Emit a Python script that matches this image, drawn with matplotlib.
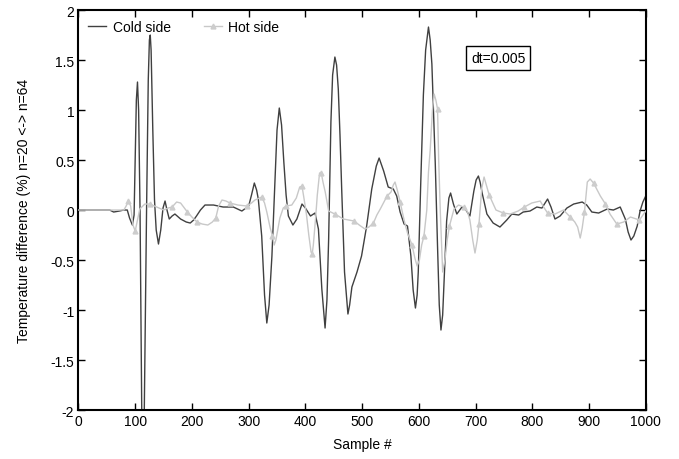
import matplotlib
matplotlib.use("Agg")
import matplotlib.pyplot as plt
import numpy as np

plt.rcParams['font.family'] = ['Liberation Sans', 'DejaVu Sans']

# Cold side curve (sample #, % difference)
cold_x = [0, 55, 62, 72, 80, 86, 90, 95, 98, 100, 102, 104, 106, 108.5, 111.5,
          113.5, 116, 120, 123, 125, 126.5, 128, 131, 134, 137, 141, 145, 149,
          152.6, 156, 160, 165, 170, 180, 190, 197, 203, 208, 215, 223, 238,
          255, 273, 288, 300, 305, 310, 314, 317, 323, 328, 332, 336, 341,
          346.6, 350, 354, 358, 362, 366, 370, 378, 385, 394, 400, 409, 417,
          423, 429, 434.7, 438, 441, 445, 448, 452, 455, 458, 461, 464, 469,
          475, 478, 482, 491, 499, 508, 517, 525, 530, 538, 546, 555, 561,
          567, 574, 580, 586, 590, 594, 597, 599, 603, 608, 612, 617, 620,
          623, 626, 629, 633, 636, 639, 642, 644.6, 649, 653, 656, 661, 667,
          676, 683, 690, 697, 701, 705, 708, 712, 720, 731, 743, 755, 764,
          776, 784, 796, 808, 817, 827, 833, 840, 849, 861, 873, 888, 896,
          905, 917, 932, 943, 955, 964, 969, 974, 979, 985, 990, 995, 1000]
cold_y = [0, 0, -0.02, -0.01, 0.0, 0.0, -0.08, -0.15, -0.05, 0.5, 1.1, 1.28,
          1.0, 0.0, -2.0, -2.45, -2.0, 0.0, 1.3, 1.7, 1.75, 1.6, 0.8, 0.1,
          -0.2, -0.34, -0.2, 0.02, 0.09, 0.0, -0.09, -0.06, -0.04, -0.09,
          -0.12, -0.13, -0.1, -0.06, 0.0, 0.05, 0.05, 0.03, 0.03, -0.01,
          0.04, 0.15, 0.27, 0.2, 0.11, -0.26, -0.85, -1.13, -0.95, -0.46,
          0.31, 0.8, 1.02, 0.85, 0.48, 0.15, -0.06, -0.15, -0.09, 0.06, 0.02,
          -0.06, -0.03, -0.19, -0.79, -1.18, -0.9, -0.29, 0.88, 1.35, 1.53,
          1.45, 1.21, 0.75, 0.21, -0.62, -1.04, -0.95, -0.77, -0.62, -0.46,
          -0.16, 0.21, 0.44, 0.52, 0.39, 0.23, 0.21, 0.14, -0.02, -0.14,
          -0.16, -0.46, -0.8, -0.98, -0.85, -0.62, 0.2, 1.15, 1.6, 1.83, 1.7,
          1.46, 0.95, 0.46, -0.37, -0.95, -1.2, -1.05, -0.71, -0.11, 0.12,
          0.17, 0.06, -0.04, 0.03, 0.0, -0.06, 0.19, 0.3, 0.34, 0.28, 0.16,
          -0.04, -0.13, -0.17, -0.10, -0.04, -0.05, -0.02, -0.01, 0.03, 0.02,
          0.11, 0.03, -0.09, -0.06, 0.02, 0.06, 0.08, 0.05, -0.02, -0.03,
          0.01, 0.0, 0.03, -0.09, -0.22, -0.30, -0.26, -0.16, -0.01, 0.08,
          0.14]

# Hot side curve
hot_x = [0, 60, 80, 84, 88, 92, 96, 100, 104, 108, 117, 126, 138, 150, 158,
         165, 173, 180, 192, 200, 209, 218, 228, 236, 242, 247, 253, 260, 267,
         281, 297, 305, 311, 323, 328, 332, 338, 342, 345, 348, 355, 361,
         366, 376, 384, 390, 394, 398, 402, 406, 410, 412, 414, 418, 421,
         425, 428, 431, 435, 441, 452, 467, 486, 495, 505, 512, 520, 526,
         532, 544, 551, 555, 558, 562, 567, 574, 580, 588, 593, 597, 601,
         605, 609, 614, 617, 620, 624, 627, 630, 633, 635, 638, 642, 646,
         650, 654, 662, 670, 679, 686, 690, 695, 699, 703, 706, 711, 715,
         719, 724, 736, 749, 761, 775, 786, 799, 814, 820, 827, 840, 855,
         867, 875, 880, 884.5, 888, 892, 897, 902, 908, 920, 929, 937, 949,
         961, 973, 989, 1000]
hot_y = [0, 0, 0.0, 0.04, 0.09, 0.04, -0.15, -0.21, -0.1, 0.01, 0.06, 0.06,
         0.03, 0.0, 0.02, 0.03, 0.08, 0.07, -0.02, -0.07, -0.12, -0.14,
         -0.15, -0.12, -0.08, 0.04, 0.10, 0.09, 0.07, 0.05, 0.04, 0.07, 0.10,
         0.13, 0.07, -0.02, -0.18, -0.26, -0.35, -0.3, -0.08, 0.02, 0.04,
         0.05, 0.12, 0.23, 0.24, 0.1, -0.05, -0.25, -0.42, -0.44, -0.35,
         -0.08, 0.15, 0.37, 0.37, 0.28, 0.18, -0.01, -0.04, -0.09, -0.11,
         -0.15, -0.19, -0.17, -0.13, -0.05, 0.01, 0.14, 0.18, 0.25, 0.28,
         0.2, 0.08, -0.1, -0.23, -0.35, -0.48, -0.56, -0.5, -0.35, -0.26,
         0.0, 0.38, 0.6, 1.0, 1.16, 1.1, 1.01, 0.5, -0.04, -0.62, -0.5,
         -0.3, -0.16, 0.01, 0.05, 0.03, -0.02, -0.1, -0.3, -0.43, -0.3,
         -0.14, 0.22, 0.33, 0.25, 0.15, 0.0, -0.03, -0.04, -0.01, 0.03,
         0.07, 0.09, 0.03, -0.03, -0.04, 0.0, -0.07, -0.12, -0.17, -0.28,
         -0.18, -0.02, 0.28, 0.31, 0.27, 0.14, 0.06, -0.04, -0.14, -0.12,
         -0.07, -0.1, -0.01]
hot_marks = [88, 100, 126, 165, 192, 209, 242, 267, 297, 323, 342, 366, 394,
             412, 428, 452, 486, 520, 544, 567, 588, 609, 633, 654, 679, 706,
             724, 749, 786, 827, 867, 892, 908, 929, 949, 989]

fig = plt.figure(figsize=(6.79, 4.60), dpi=100)
ax = fig.add_axes([0.1156, 0.1065, 0.8354, 0.8695])

mask = list(np.isin(hot_x, hot_marks))
ax.plot(cold_x, cold_y, color='#404040', lw=1.0, label='Cold side', zorder=2)
ax.plot(hot_x, hot_y, color='#c8c8c8', lw=1.0, marker='^', markersize=3.5,
        markevery=mask, markerfacecolor='#cdcdcd', markeredgecolor='#cdcdcd',
        label='Hot side', zorder=3)

ax.set_xlim(0, 1000)
ax.set_ylim(-2, 2)
ax.set_xticks(np.arange(0, 1001, 100))
ax.set_yticks(np.arange(-2, 2.01, 0.5))
ax.set_yticklabels(['-2', '-1.5', '-1', '-0.5', '0', '0.5', '1', '1.5', '2'])
ax.tick_params(direction='in', length=5, width=1, top=True, right=True,
               labelsize=10, pad=3)
for sp in ax.spines.values():
    sp.set_linewidth(1.5)

ax.set_xlabel('Sample #', fontsize=10, labelpad=6)
ax.set_ylabel('Temperature difference (%) n=20 <-> n=64', fontsize=10,
              labelpad=14)

ax.legend(loc='upper left', bbox_to_anchor=(0.0, 1.0), ncol=2,
          frameon=False, fontsize=10, handlelength=1.3, handletextpad=0.45,
          columnspacing=2.4, borderaxespad=0.3)

ax.text(740, 1.52, 'dt=0.005', ha='center', va='center', fontsize=10,
        bbox=dict(boxstyle='square,pad=0.35', fc='white', ec='black', lw=1))

fig.savefig('out.png', dpi=100)
